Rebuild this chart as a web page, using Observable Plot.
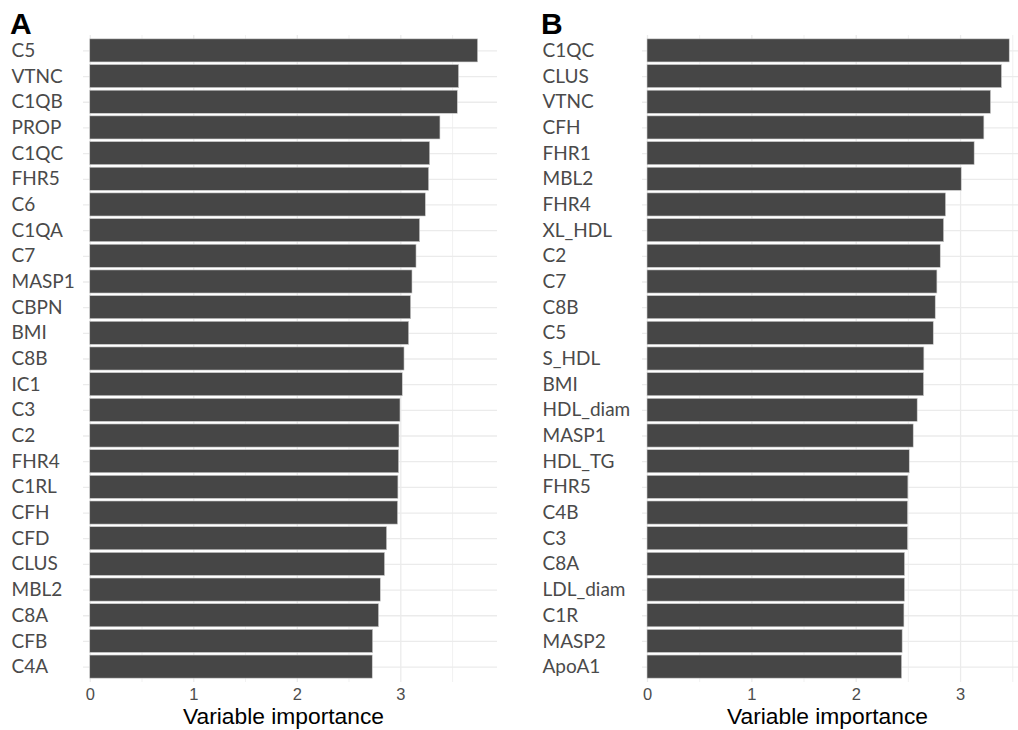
<!DOCTYPE html>
<html><head><meta charset="utf-8">
<script src="https://cdn.jsdelivr.net/npm/d3@7"></script>
<script src="https://cdn.jsdelivr.net/npm/@observablehq/plot@0.6"></script>
<style>
html,body{margin:0;padding:0;background:#fff;overflow:hidden;}
#wrap{position:relative;width:1018px;height:730px;overflow:hidden;}
.panel{position:absolute;top:0;}
.tag{position:absolute;font-family:"Liberation Sans",Arial,sans-serif;font-weight:bold;font-size:30px;line-height:30px;color:#000;}
</style></head><body>
<div id="wrap">
<div id="pa" class="panel" style="left:0"></div>
<div id="pb" class="panel" style="left:509px"></div>
<div class="tag" style="left:10px;top:9px">A</div>
<div class="tag" style="left:541px;top:9px">B</div>
</div>
<script>
const namesA = ["C5","VTNC","C1QB","PROP","C1QC","FHR5","C6","C1QA","C7","MASP1","CBPN","BMI","C8B","IC1","C3","C2","FHR4","C1RL","CFH","CFD","CLUS","MBL2","C8A","CFB","C4A"];
const valuesA = [3.747,3.563,3.551,3.383,3.284,3.274,3.242,3.187,3.152,3.113,3.100,3.081,3.036,3.019,2.997,2.987,2.984,2.977,2.974,2.868,2.848,2.807,2.790,2.733,2.729];
const namesB = ["C1QC","CLUS","VTNC","CFH","FHR1","MBL2","FHR4","XL_HDL","C2","C7","C8B","C5","S_HDL","BMI","HDL_diam","MASP1","HDL_TG","FHR5","C4B","C3","C8A","LDL_diam","C1R","MASP2","ApoA1"];
const valuesB = [3.471,3.397,3.292,3.228,3.135,3.011,2.861,2.842,2.810,2.778,2.762,2.743,2.653,2.650,2.589,2.551,2.513,2.500,2.497,2.497,2.468,2.468,2.462,2.445,2.440];
const xTicks = [0,1,2,3];
const xMinor = [0.5,1.5,2.5,3.5];
const xTitle = "Variable importance";

function panel({names, values, width, marginLeft, marginRight, xDomain, labelDx, titleDx}) {
  const data = names.map((n, i) => ({name: n, value: values[i]}));
  return Plot.plot({
    width, height: 730, marginTop: 35, marginBottom: 48, marginLeft, marginRight,
    style: {background: "white", color: "#4d4d4d"},
    x: {domain: xDomain, label: null, axis: null},
    y: {type: "band", domain: names, paddingInner: 0.1, paddingOuter: 0.15, round: false, label: null, axis: null},
    marks: [
      Plot.gridX(xMinor, {stroke: "#ededed", strokeOpacity: 1, strokeWidth: 0.8}),
      Plot.gridX(xTicks, {stroke: "#ebebeb", strokeOpacity: 1, strokeWidth: 1.3}),
      Plot.ruleY(names, {y: d => d, stroke: "#ebebeb", strokeWidth: 1.3}),
      Plot.barX(data, {y: "name", x: "value", fill: "#464646", stroke: "#cfcfcf", strokeWidth: 0.6}),
      Plot.text(names, {y: d => d, text: d => d, frameAnchor: "left", textAnchor: "start", dx: labelDx, fontSize: 19, fontFamily: "Lato, 'Open Sans', sans-serif", fill: "#4a4a4a"}),
      Plot.text(xTicks, {x: d => d, text: d => String(d), frameAnchor: "bottom", lineAnchor: "top", dy: 6, fontSize: 16.5, fontFamily: "'Liberation Sans', Arial, sans-serif", fill: "#4d4d4d"}),
      Plot.text([xTitle], {text: d => d, frameAnchor: "bottom", lineAnchor: "top", dy: 25, dx: titleDx, fontSize: 22.8, fontFamily: "'Liberation Sans', Arial, sans-serif", fill: "#000"})
    ]
  });
}

document.getElementById("pa").append(panel({
  names: namesA, values: valuesA, width: 509, marginLeft: 83, marginRight: 12,
  xDomain: [-0.065, 3.934], labelDx: -72, titleDx: -7
}));
document.getElementById("pb").append(panel({
  names: namesB, values: valuesB, width: 509, marginLeft: 133, marginRight: 0,
  xDomain: [-0.048, 3.555], labelDx: -100, titleDx: -3
}));
</script>
</body></html>
